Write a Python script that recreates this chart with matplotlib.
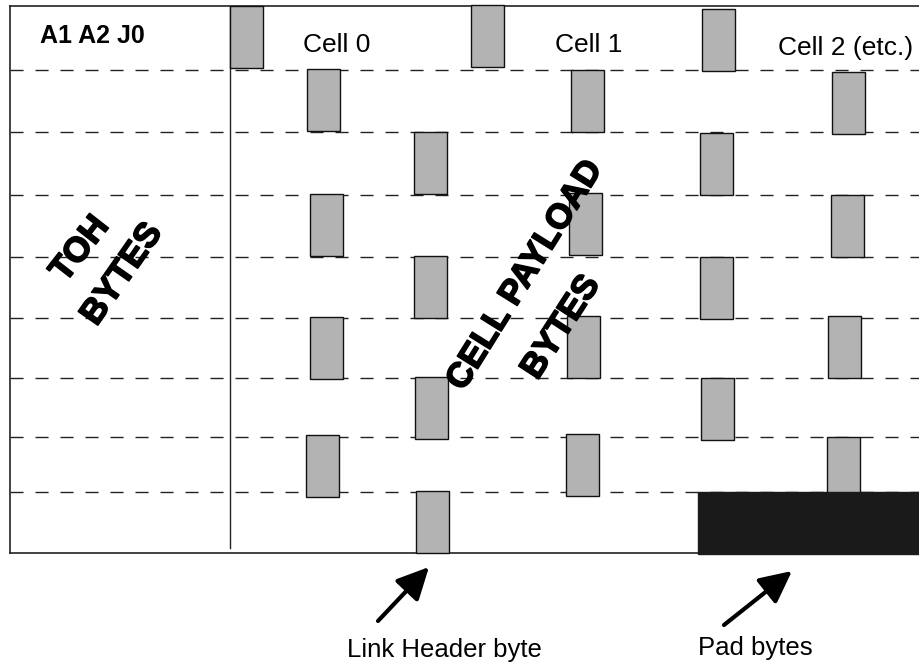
import matplotlib
matplotlib.use("Agg")
import matplotlib.pyplot as plt
import matplotlib.patheffects as pe
from matplotlib.patches import Rectangle

plt.rcParams['font.family'] = ['Liberation Sans', 'DejaVu Sans']
plt.rcParams['lines.scale_dashes'] = False

# Frame layout (pixel space of the drawing)
row_lines = [70, 132, 195, 257, 318, 378, 437, 492]
frame_left, frame_top, frame_bottom = 10, 6, 553
toh_split = 230

# Link header bytes: left edge and top of each grey box
box_x = [230, 471, 702, 307, 571, 832, 414, 700, 310, 569, 831,
         414, 700, 310, 567, 828, 415, 701, 306, 566, 827, 416]
box_y = [6, 5, 9, 69, 70, 72, 132, 133, 194, 193, 195,
         256, 257, 317, 316, 316, 377, 378, 435, 434, 437, 491]
box_w, box_h = 33, 62

# Pad bytes block
pad_x0, pad_y0, pad_x1, pad_y1 = 698, 492, 920, 554

cell_labels = ["Cell 0", "Cell 1", "Cell 2 (etc.)"]
cell_label_x = [303, 555, 778]
cell_label_y = [52, 52, 55]

fig = plt.figure(figsize=(9.2, 6.66), dpi=100)
ax = fig.add_axes([0, 0, 1, 1])
ax.set_xlim(0, 920)
ax.set_ylim(666, 0)
ax.axis('off')

# Frame
ax.plot([frame_left, 920], [frame_top, frame_top], color='#222222', lw=1.2)
ax.plot([frame_left, frame_left], [frame_top, frame_bottom], color='#222222', lw=1.2)
ax.plot([frame_left, pad_x0], [frame_bottom, frame_bottom], color='#222222', lw=1.2)
ax.plot([toh_split, toh_split], [frame_top, 548], color='#222222', lw=1.0)

# Row separators
for y in row_lines:
    ax.plot([frame_left, 920], [y, y], color='#222222', lw=1.0,
            linestyle=(0, (9.4, 8.6)))

# Link header boxes
for x, y in zip(box_x, box_y):
    ax.add_patch(Rectangle((x, y), box_w, box_h, facecolor='#b3b3b3',
                           edgecolor='#111111', lw=1.0, zorder=3))

# Pad bytes
ax.add_patch(Rectangle((pad_x0, pad_y0), pad_x1 - pad_x0, pad_y1 - pad_y0,
                       facecolor='#1a1a1a', edgecolor='#1a1a1a', lw=1.0, zorder=4))

# Labels
ax.text(40, 43, "A1 A2 J0", fontsize=18, fontweight='bold', va='baseline')
for lab, x, y in zip(cell_labels, cell_label_x, cell_label_y):
    ax.text(x, y, lab, fontsize=19, va='baseline')

heavy = [pe.withStroke(linewidth=1.2, foreground='black')]
rot_kw = dict(fontsize=25, fontweight='bold', ha='center', va='center',
              rotation_mode='anchor', zorder=5, path_effects=heavy)
ax.text(80, 249, "TOH", rotation=52, **rot_kw)
ax.text(122, 274, "BYTES", rotation=55, **rot_kw)
ax.text(525, 275, "CELL PAYLOAD", rotation=58, **rot_kw)
ax.text(561, 327, "BYTES", rotation=57, **rot_kw)

# Arrows and captions
arrow = dict(arrowstyle='-|>,head_length=0.65,head_width=0.32', lw=3,
             mutation_scale=30, color='black', shrinkA=0, shrinkB=0)
ax.annotate("", xy=(429, 567), xytext=(378, 621), arrowprops=arrow)
ax.annotate("", xy=(792, 571), xytext=(724, 625), arrowprops=arrow)
ax.text(347, 657, "Link Header byte", fontsize=18.5, va='baseline')
ax.text(698, 655, "Pad bytes", fontsize=18.5, va='baseline')

plt.savefig("out.png", dpi=100)
